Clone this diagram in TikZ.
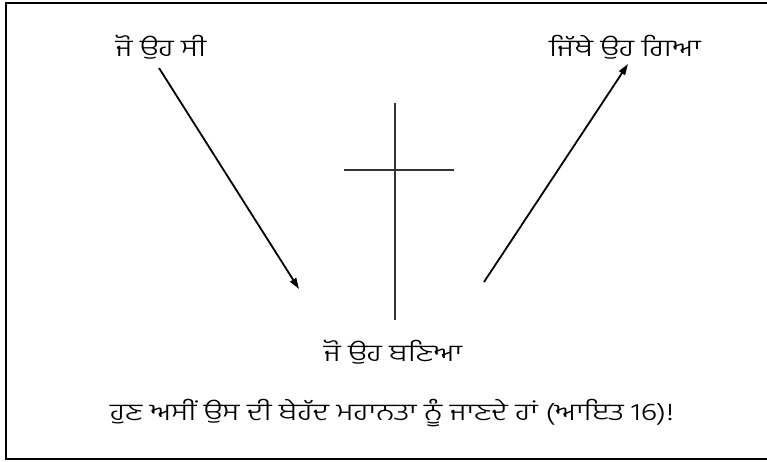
\documentclass[tikz,border=0pt]{standalone}
\usepackage{fontspec}
\newfontfamily\gur[Script=Gurmukhi]{Hind Jalandhar Light}
\usetikzlibrary{arrows.meta}
\begin{document}
\begin{tikzpicture}[x=1pt,y=-1pt,
  lbl/.style={font=\gur\fontsize{24}{28}\selectfont, inner sep=0pt, anchor=center, xscale=1.29},
  arr/.style={line width=1.8pt, -{Triangle[length=11pt,width=7pt]}},
  crossline/.style={line width=1.6pt, draw=black!80}]
\useasboundingbox (0,0) rectangle (767,461);
\begin{scope}
\clip (0,0) rectangle (767,461);
\draw[line width=2.2pt] (6,3) rectangle (775,459);
\end{scope}
\node[lbl] (was) at (161,47) {ਜੋ ਉਹ ਸੀ};
\node[lbl] (went) at (625,47) {ਜਿੱਥੇ ਉਹ ਗਿਆ};
\node[lbl] (became) at (393,352) {ਜੋ ਉਹ ਬਣਿਆ};
\node[lbl] (bottom) at (392,413) {ਹੁਣ ਅਸੀਂ ਉਸ ਦੀ ਬੇਹੱਦ ਮਹਾਨਤਾ ਨੂੰ ਜਾਣਦੇ ਹਾਂ (ਆਇਤ 16)!};
\coordinate (a1s) at (159,68);
\coordinate (a1e) at (299,289);
\coordinate (a2s) at (484,282);
\coordinate (a2e) at (628,64);
\draw[arr] (a1s) -- (a1e);
\draw[arr] (a2s) -- (a2e);
\coordinate (vt) at (395,103);
\coordinate (vb) at (395,320);
\coordinate (hl) at (344,170);
\coordinate (hr) at (454,170);
\draw[crossline] (vt) -- (vb);
\draw[crossline] (hl) -- (hr);
\end{tikzpicture}
\end{document}
